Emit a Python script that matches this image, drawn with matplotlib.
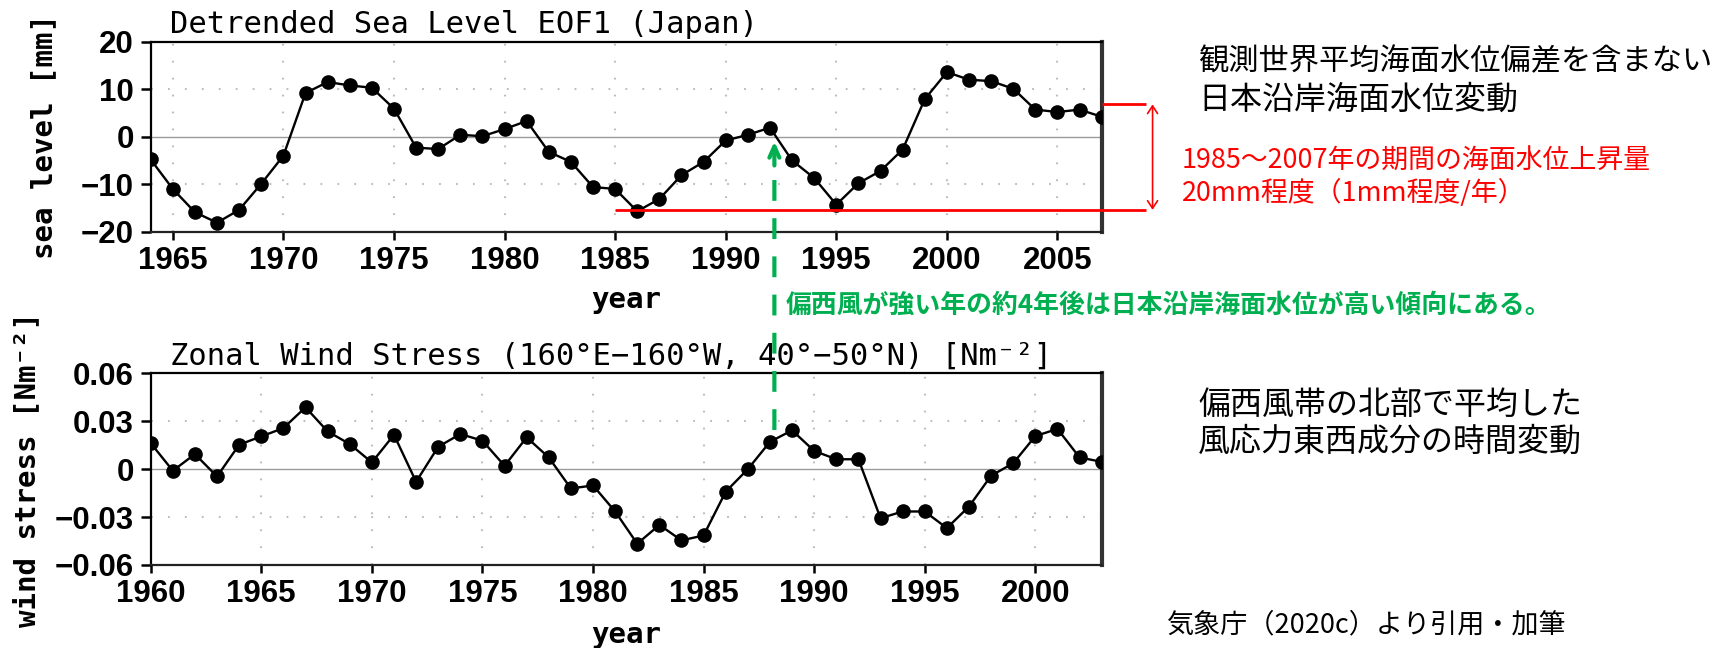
import matplotlib
matplotlib.use("Agg")
import matplotlib.pyplot as plt
from matplotlib.patches import ConnectionPatch

plt.rcParams["lines.scale_dashes"] = False

# ---- data
years_sl = list(range(1964, 2008))
sea_level = [-4.8, -11.0, -15.9, -18.1, -15.4, -9.9, -4.0, 9.2, 11.5, 10.8,
             10.3, 5.9, -2.3, -2.6, 0.4, 0.1, 1.6, 3.3, -3.2, -5.3,
             -10.6, -11.0, -15.7, -13.1, -8.1, -5.3, -0.8, 0.4, 1.9, -5.0,
             -8.7, -14.3, -9.8, -7.2, -2.7, 7.9, 13.6, 12.0, 11.7, 10.1,
             5.7, 5.2, 5.7, 4.2]

years_ws = list(range(1960, 2004))
wind_stress = [0.0163, -0.0010, 0.0094, -0.0046, 0.0153, 0.0205, 0.0257, 0.0387,
               0.0236, 0.0157, 0.0042, 0.0215, -0.0079, 0.0140, 0.0220, 0.0178,
               0.0021, 0.0199, 0.0073, -0.0121, -0.0102, -0.0265, -0.0467, -0.0349,
               -0.0446, -0.0415, -0.0141, 0.0000, 0.0171, 0.0243, 0.0114, 0.0062,
               0.0062, -0.0307, -0.0265, -0.0265, -0.0369, -0.0234, -0.0041, 0.0037,
               0.0207, 0.0252, 0.0073, 0.0046]

sl_xticks = [1965, 1970, 1975, 1980, 1985, 1990, 1995, 2000, 2005]
sl_yticks = [-20, -10, 0, 10, 20]
sl_ylabels = ["\u221220", "\u221210", "0", "10", "20"]
ws_xticks = [1960, 1965, 1970, 1975, 1980, 1985, 1990, 1995, 2000]
ws_yticks = [-0.06, -0.03, 0, 0.03, 0.06]
ws_ylabels = ["\u22120.06", "\u22120.03", "0", "0.03", "0.06"]

# annotation anchors (data units)
rise_start, rise_end, bracket_x = 1985, 2007, 2009.0
rise_low, rise_high = -15.4, 6.8
lag_years = 4
wind_peak_x, wind_arrow_y = 1988.2, 0.0245
sl_arrow_tip, sl_arrow_base = -1.0, -5.6

GREEN = "#00B050"
W, H = 1727, 648

TICK_FONT = dict(family=["Liberation Sans", "DejaVu Sans"], weight="bold", size=22.5)
LABEL_FONT = dict(family=["DejaVu Sans Mono", "DejaVu Sans"], weight="bold", size=21)
TITLE_FONT = dict(family=["DejaVu Sans Mono", "DejaVu Sans"], size=22)
JP = ["Noto Sans CJK JP", "DejaVu Sans"]


def px_box(left, top, right, bottom):
    return [left / W, 1 - bottom / H, (right - left) / W, (bottom - top) / H]


def grads_axes(ax, xlim, ylim, xticks, yticks, ylabels, grid_y):
    ax.set_xlim(*xlim)
    ax.set_ylim(*ylim)
    ax.set_xticks(xticks)
    ax.set_xticklabels([str(t) for t in xticks], **TICK_FONT)
    ax.set_yticks(yticks)
    ax.set_yticklabels(ylabels, **TICK_FONT)
    ax.tick_params(axis="x", direction="out", length=6, width=1.8, pad=4, top=False)
    ax.tick_params(axis="y", direction="out", length=7, width=1.8, pad=5, right=False)
    for s in ax.spines.values():
        s.set_linewidth(1.6)
        s.set_color("black")
    ax.spines["right"].set_linewidth(3.0)
    ax.spines["right"].set_color("#333333")
    ax.spines["bottom"].set_color("#222222")
    for x in xticks:
        ax.axvline(x, color="#bdbdbd", lw=1.5, ls=(0, (1.3, 10.9)), zorder=0)
    for y in grid_y:
        ax.axhline(y, color="#bdbdbd", lw=1.5, ls=(0, (1.3, 10.9)), zorder=0)
    ax.axhline(0, color="#9a9a9a", lw=1.0, zorder=1)


fig = plt.figure(figsize=(W / 100, H / 100), dpi=100)
fig.patch.set_facecolor("white")

ax1 = fig.add_axes(px_box(150.7, 41.7, 1101.7, 231.7))
ax2 = fig.add_axes(px_box(150.7, 373.3, 1101.7, 565.0))

grads_axes(ax1, (1964, 2007), (-20, 20), sl_xticks, sl_yticks, sl_ylabels, [-10, 10])
grads_axes(ax2, (1960, 2003), (-0.06, 0.06), ws_xticks, ws_yticks, ws_ylabels, [-0.03, 0.03])

for ax, xs, ys in [(ax1, years_sl, sea_level), (ax2, years_ws, wind_stress)]:
    ax.plot(xs, ys, "-o", color="black", lw=1.7, ms=9.5, mfc="black", mec="black", zorder=3)

ax1.text(0.0203, 1.0458, "Detrended Sea Level EOF1 (Japan)", transform=ax1.transAxes,
         va="baseline", ha="left", **TITLE_FONT)
ax2.text(0.0203, 1.0433, "Zonal Wind Stress (160\u00b0E\u2212160\u00b0W, 40\u00b0\u221250\u00b0N) [Nm\u207b\u00b2]",
         transform=ax2.transAxes, va="baseline", ha="left", **TITLE_FONT)

ax1.set_ylabel("sea level [mm]", va="center", **LABEL_FONT)
ax1.yaxis.set_label_coords(-0.1122, 0.5)
ax2.set_ylabel("wind stress [Nm\u207b\u00b2]", va="center", **LABEL_FONT)
ax2.yaxis.set_label_coords(-0.130, 0.5)
ax1.set_xlabel("year", va="center", **LABEL_FONT)
ax1.xaxis.set_label_coords(0.5, -0.3595)
ax2.set_xlabel("year", va="center", **LABEL_FONT)
ax2.xaxis.set_label_coords(0.5, -0.365)

# ---- red rise markers on the sea level panel
ax1.plot([rise_start, bracket_x], [rise_low, rise_low], color="red", lw=2.0,
         clip_on=False, zorder=4, solid_capstyle="butt")
ax1.plot([rise_end, bracket_x], [rise_high, rise_high], color="red", lw=2.0,
         clip_on=False, zorder=4, solid_capstyle="butt")
ax1.annotate("", xy=(bracket_x + 0.3, rise_high), xytext=(bracket_x + 0.3, rise_low),
             arrowprops=dict(arrowstyle="<->,head_length=0.55,head_width=0.36",
                             color="red", lw=1.2, shrinkA=0, shrinkB=0),
             annotation_clip=False)

# ---- green lag arrow: wind peak -> sea level peak 4 years later
shaft = ConnectionPatch(xyA=(wind_peak_x, wind_arrow_y), coordsA=ax2.transData,
                        xyB=(wind_peak_x + lag_years, sl_arrow_base), coordsB=ax1.transData,
                        arrowstyle="-", color=GREEN, lw=3.0, linestyle=(0, (15, 12.5)),
                        capstyle="butt", zorder=5)
fig.add_artist(shaft)
ax1.annotate("", xy=(wind_peak_x + lag_years, sl_arrow_tip),
             xytext=(0, -24), textcoords="offset pixels",
             arrowprops=dict(arrowstyle="->,head_length=0.8,head_width=0.36",
                             color=GREEN, lw=3.0, shrinkA=0, shrinkB=0),
             annotation_clip=False, zorder=5)


def ftext(x, y, s, **kw):
    fig.text(x / W, 1 - y / H, s, va="center", ha="left", family=JP, **kw)


ftext(1198, 61.7, "観測世界平均海面水位偏差を含まない", size=21.8, color="black")
ftext(1198, 100, "日本沿岸海面水位変動", size=23, color="black")
ftext(1182, 161.7, "1985～2007年の期間の海面水位上昇量", size=19.4, color="red")
ftext(1182, 193, "20mm程度（1mm程度/年）", size=19.4, color="red")
ftext(785.5, 305, "偏西風が強い年の約4年後は日本沿岸海面水位が高い傾向にある。",
      size=18.6, color=GREEN, weight="bold")
ftext(1198, 405, "偏西風帯の北部で平均した", size=23, color="black")
ftext(1198, 441.7, "風応力東西成分の時間変動", size=23, color="black")
ftext(1166.6, 625, "気象庁（2020c）より引用・加筆", size=19.5, color="black")

fig.savefig("out.png", dpi=100, facecolor="white")
